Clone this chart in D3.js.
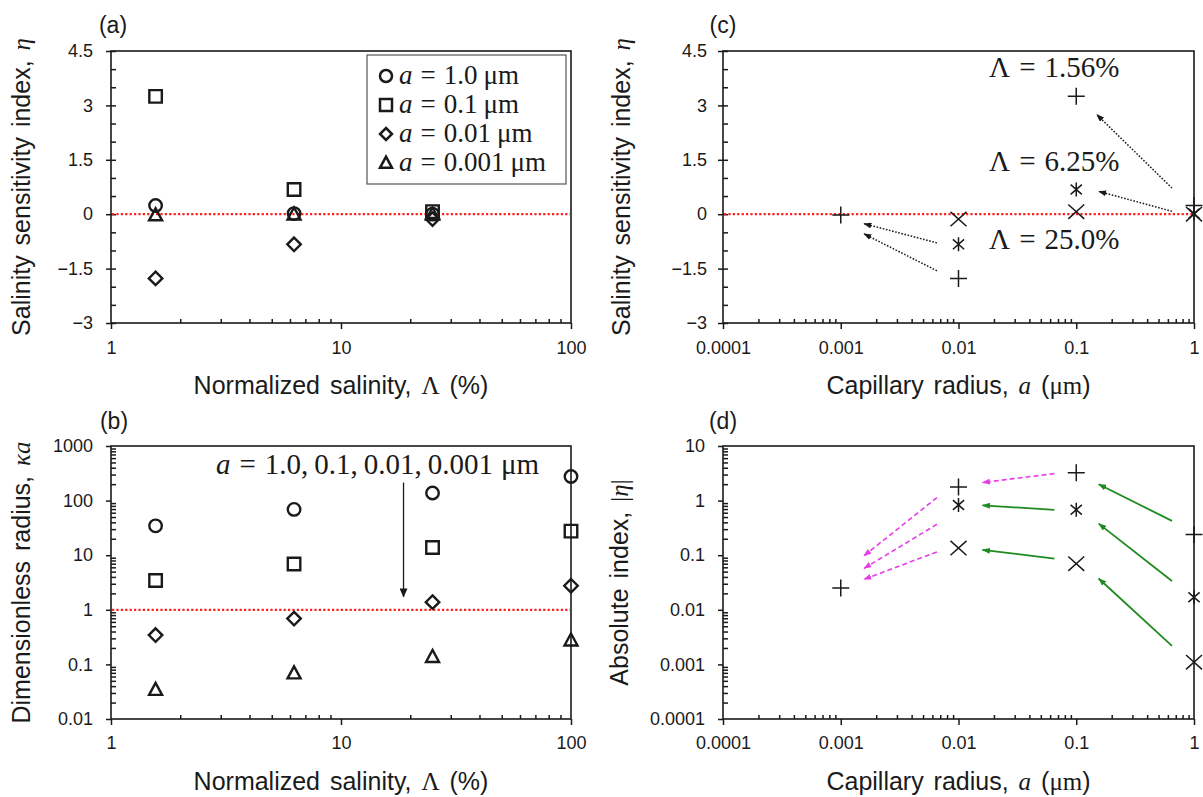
<!DOCTYPE html>
<html>
<head>
<meta charset="utf-8">
<script src="https://cdn.jsdelivr.net/npm/d3@7"></script>
<style>
  html, body { margin: 0; padding: 0; background: #fff; }
  svg { display: block; }
  .tick text { font-family: "Liberation Sans", Arial, sans-serif; font-size: 18px; fill: #1a1a1a; }
  .tick line { stroke: #1a1a1a; stroke-width: 1.5; }
  .title { font-family: "Liberation Sans", Arial, sans-serif; font-size: 25px; fill: #1a1a1a; word-spacing: 3px; }
  .math { font-family: "Liberation Serif", "Times New Roman", serif; }
  .ital { font-style: italic; }
  .note { font-family: "Liberation Serif", "Times New Roman", serif; fill: #1a1a1a; }
</style>
</head>
<body>
<svg id="fig" width="1203" height="797"></svg>
<script>
// ---------- data ----------
// normalized salinity Λ (%)
const salinityA = [1.5625, 6.25, 25];
const salinityB = [1.5625, 6.25, 25, 100];
// capillary radii a (µm), order used by the legend
const radiusLabels = ["1.0", "0.1", "0.01", "0.001"];

// (a) salinity sensitivity index η versus Λ, one series per radius
const etaA_r1 = [0.24, 0.017, 0.0011];
const etaA_r01 = [3.25, 0.68, 0.07];
const etaA_r001 = [-1.77, -0.83, -0.135];
const etaA_r0001 = [-0.025, -0.004, -0.002];

// (b) dimensionless radius κa versus Λ
const ka_r1 = [34.5, 69, 138, 276];
const ka_r01 = [3.45, 6.9, 13.8, 27.6];
const ka_r001 = [0.345, 0.69, 1.38, 2.76];
const ka_r0001 = [0.0345, 0.069, 0.138, 0.276];

// (c) η versus capillary radius, one series per salinity
const radiusC = [1, 0.1, 0.01, 0.001];
const etaC_L156 = [0.24, 3.25, -1.77, -0.025];
const etaC_L625 = [0.017, 0.68, -0.83, null];
const etaC_L250 = [0.0011, 0.07, -0.135, null];
const salinityNotes = ["1.56%", "6.25%", "25.0%"];
// anchor of each Λ note in (c): [a, η]
const notePosC = [[0.0182, 3.77], [0.0182, 1.18], [0.0182, -0.97]];

// (d) absolute index |η| for the same series as (c)
const absD_L156 = etaC_L156.map(v => v == null ? null : Math.abs(v));
const absD_L625 = etaC_L625.map(v => v == null ? null : Math.abs(v));
const absD_L250 = etaC_L250.map(v => v == null ? null : Math.abs(v));

// annotation arrows [x1, y1, x2, y2] in data units
const arrowsC = [[0.65, 0.72, 0.149, 2.75], [0.65, 0.08, 0.155, 0.63],
                 [0.00656, -0.79, 0.00157, -0.26], [0.00656, -1.56, 0.00157, -0.54]];
const arrowsDMagenta = [[0.0652, 3.12, 0.01596, 2.14], [0.00656, 1.135, 0.00157, 0.097],
                        [0.00656, 0.368, 0.00157, 0.057], [0.00656, 0.115, 0.00157, 0.036]];
const arrowsDGreen = [[0.65, 0.425, 0.155, 1.99], [0.0652, 0.676, 0.01596, 0.82],
                      [0.65, 0.0338, 0.155, 0.379], [0.0652, 0.0867, 0.01596, 0.125],
                      [0.65, 0.00219, 0.155, 0.0374]];
const arrowB = [18.7, 214, 18.7, 1.72];
const noteB = [2.86, 303];

// tick values and labels
const etaTicks = [-3, -1.5, 0, 1.5, 3, 4.5];
const etaTickLabels = ["\u22123", "\u22121.5", "0", "1.5", "3", "4.5"];
const salinityTicks = [1, 10, 100];
const salinityTickLabels = ["1", "10", "100"];
const radiusTicks = [0.0001, 0.001, 0.01, 0.1, 1];
const radiusTickLabels = ["0.0001", "0.001", "0.01", "0.1", "1"];
const kaTicks = [0.01, 0.1, 1, 10, 100, 1000];
const kaTickLabels = ["0.01", "0.1", "1", "10", "100", "1000"];
const absTicks = [0.0001, 0.001, 0.01, 0.1, 1, 10];
const absTickLabels = ["0.0001", "0.001", "0.01", "0.1", "1", "10"];

// ---------- layout ----------
const svg = d3.select("#fig");
const INK = "#1a1a1a";
const RED = "#ff1f1f";
const MAGENTA = "#e83ce8";
const GREEN = "#1f8a1f";

const L = { x0: 111, x1: 571 }, R = { x0: 723, x1: 1194 };
const T = { y0: 51, y1: 323 }, B = { y0: 446, y1: 719 };

const xA = d3.scaleLog().domain([1, 100]).range([L.x0, L.x1]);
const yA = d3.scaleLinear().domain([-3, 4.5]).range([T.y1, T.y0]);
const xB = d3.scaleLog().domain([1, 100]).range([L.x0, L.x1]);
const yB = d3.scaleLog().domain([0.01, 1000]).range([B.y1, B.y0]);
const xC = d3.scaleLog().domain([0.0001, 1]).range([R.x0, R.x1]);
const yC = d3.scaleLinear().domain([-3, 4.5]).range([T.y1, T.y0]);
const xD = d3.scaleLog().domain([0.0001, 1]).range([R.x0, R.x1]);
const yD = d3.scaleLog().domain([0.0001, 10]).range([B.y1, B.y0]);

// arrowheads
const defs = svg.append("defs");
function arrowHead(id, color, w, h) {
  defs.append("marker").attr("id", id)
    .attr("viewBox", `0 0 ${w} ${h}`).attr("refX", w - 0.5).attr("refY", h / 2)
    .attr("markerWidth", w).attr("markerHeight", h)
    .attr("markerUnits", "userSpaceOnUse").attr("orient", "auto")
    .append("path").attr("d", `M0,0L${w},${h / 2}L0,${h}Z`).attr("fill", color);
}
arrowHead("ahBlack", INK, 8, 6);
arrowHead("ahMagenta", MAGENTA, 8, 6);
arrowHead("ahGreen", GREEN, 8, 6);
arrowHead("ahBlackB", INK, 9, 8);

// log minor tick positions (2..9 per decade)
function logMinors(scale) {
  const [a, b] = scale.domain();
  const out = [];
  for (let e = Math.round(Math.log10(a)); e < Math.round(Math.log10(b)); e++)
    for (let k = 2; k <= 9; k++) out.push(k * Math.pow(10, e));
  return out;
}

function drawAxes(x, y, opt) {
  const g = svg.append("g");
  const [x0, x1] = x.range(), [y1, y0] = y.range();
  // minor ticks point into the plot
  g.append("g").attr("transform", `translate(0,${y1})`)
    .call(d3.axisBottom(x).tickValues(opt.xMinor).tickSize(-4).tickFormat(""))
    .call(s => s.select(".domain").remove());
  g.append("g").attr("transform", `translate(${x0},0)`)
    .call(d3.axisLeft(y).tickValues(opt.yMinor).tickSize(-5).tickFormat(""))
    .call(s => s.select(".domain").remove());
  // major ticks point outward, with labels
  g.append("g").attr("transform", `translate(0,${y1})`)
    .call(d3.axisBottom(x).tickValues(opt.xTicks).tickSize(6).tickPadding(opt.xPad)
      .tickFormat((d, i) => opt.xLabels[i]))
    .call(s => s.select(".domain").remove());
  g.append("g").attr("transform", `translate(${x0},0)`)
    .call(d3.axisLeft(y).tickValues(opt.yTicks).tickSize(5).tickPadding(opt.yPad)
      .tickFormat((d, i) => opt.yLabels[i]))
    .call(s => s.select(".domain").remove());
  // plot frame
  g.append("rect").attr("x", x0).attr("y", y0).attr("width", x1 - x0).attr("height", y1 - y0)
    .attr("fill", "none").attr("stroke", INK).attr("stroke-width", 1.6);
  return g;
}

function refLine(x, yv, y) {
  svg.append("line")
    .attr("x1", x.range()[0] + 1).attr("x2", x.range()[1] - 1)
    .attr("y1", y(yv)).attr("y2", y(yv))
    .attr("stroke", RED).attr("stroke-width", 2.2).attr("stroke-dasharray", "2.2,2.2");
}

// hollow and line markers
function shapePath(kind, s) {
  const h = s / 2;
  switch (kind) {
    case "circle": { const p = d3.path(); p.moveTo(h, 0); p.arc(0, 0, h, 0, 2 * Math.PI); p.closePath(); return p.toString(); }
    case "square": return `M${-h},${-h}H${h}V${h}H${-h}Z`;
    case "diamond": return `M0,${-h}L${h},0L0,${h}L${-h},0Z`;
    case "triangle": return `M0,${-h * 1.05}L${h},${h * 0.8}L${-h},${h * 0.8}Z`;
    case "plus": return `M${-h},0H${h}M0,${-h}V${h}`;
    case "cross": return `M${-h},${-h * 0.9}L${h},${h * 0.9}M${-h},${h * 0.9}L${h},${-h * 0.9}`;
    case "star": return `M${-h * 0.8},${-h * 0.7}L${h * 0.8},${h * 0.7}M${-h * 0.8},${h * 0.7}L${h * 0.8},${-h * 0.7}M0,${-h}V${h}`;
  }
}
const hollowSize = { circle: 12.5, square: 12.5, diamond: 13.5, triangle: 13 };
const lineSize = { plus: 17, cross: 16, star: 14 };

function drawSeries(xs, ys, x, y, kind) {
  const pts = xs.map((v, i) => [v, ys[i]]).filter(p => p[1] != null);
  const hollow = kind in hollowSize;
  svg.append("g").selectAll("path").data(pts).join("path")
    .attr("transform", d => `translate(${x(d[0])},${y(d[1])})`)
    .attr("d", shapePath(kind, hollow ? hollowSize[kind] : lineSize[kind]))
    .attr("fill", "none").attr("stroke", INK)
    .attr("stroke-width", hollow ? 2.4 : 1.5);
}

function drawArrows(list, x, y, color, dash, head, width) {
  svg.append("g").selectAll("line").data(list).join("line")
    .attr("x1", d => x(d[0])).attr("y1", d => y(d[1]))
    .attr("x2", d => x(d[2])).attr("y2", d => y(d[3]))
    .attr("stroke", color).attr("stroke-width", width)
    .attr("stroke-dasharray", dash).attr("marker-end", `url(#${head})`);
}

function panelTag(label, cx, cy) {
  svg.append("text").attr("x", cx).attr("y", cy).attr("dy", "0.35em")
    .attr("text-anchor", "middle").attr("class", "title").style("font-size", "23px").text(label);
}

function xTitle(cx, cy, parts) {
  const t = svg.append("text").attr("class", "title").attr("x", cx).attr("y", cy)
    .attr("dy", "0.35em").attr("text-anchor", "middle");
  parts.forEach(p => t.append("tspan").attr("class", p[1] || null).text(p[0]));
}
function yTitle(cx, cy, parts) {
  const t = svg.append("text").attr("class", "title")
    .attr("transform", `translate(${cx},${cy}) rotate(-90)`)
    .attr("dy", "0.35em").attr("text-anchor", "middle");
  parts.forEach(p => t.append("tspan").attr("class", p[1] || null).text(p[0]));
}

// ---------- panel (a) ----------
const linMinor = d3.range(-3, 4.5001, 0.5);
drawAxes(xA, yA, { xTicks: salinityTicks, xLabels: salinityTickLabels, xMinor: logMinors(xA), xPad: 12,
  yTicks: etaTicks, yLabels: etaTickLabels, yMinor: linMinor, yPad: 13 });
refLine(xA, 0, yA);
drawSeries(salinityA, etaA_r1, xA, yA, "circle");
drawSeries(salinityA, etaA_r01, xA, yA, "square");
drawSeries(salinityA, etaA_r001, xA, yA, "diamond");
drawSeries(salinityA, etaA_r0001, xA, yA, "triangle");

// legend
const legend = svg.append("g");
legend.append("rect").attr("x", 367).attr("y", 55).attr("width", 199).attr("height", 129)
  .attr("fill", "#fff").attr("stroke", "#555").attr("stroke-width", 1.2);
const legendKinds = ["circle", "square", "diamond", "triangle"];
radiusLabels.forEach((lab, i) => {
  const cy = 76 + i * 29;
  legend.append("path").attr("transform", `translate(386,${cy})`)
    .attr("d", shapePath(legendKinds[i], 12)).attr("fill", "none")
    .attr("stroke", INK).attr("stroke-width", 2.5);
  const t = legend.append("text").attr("class", "note").attr("x", 399).attr("y", cy + 8)
    .style("font-size", "27px");
  t.append("tspan").attr("class", "ital").text("a");
  t.append("tspan").attr("dx", 8).text("=");
  t.append("tspan").attr("dx", 8).text(lab);
  t.append("tspan").attr("dx", 6).text("\u03bcm");
});

panelTag("(a)", 113, 25);
xTitle((L.x0 + L.x1) / 2, 385, [["Normalized salinity, "], ["\u039b", "math"], [" (%)"]]);
yTitle(21, (T.y0 + T.y1) / 2, [["Salinity sensitivity index, "], ["\u03b7", "math ital"]]);

// ---------- panel (b) ----------
drawAxes(xB, yB, { xTicks: salinityTicks, xLabels: salinityTickLabels, xMinor: logMinors(xB), xPad: 11,
  yTicks: kaTicks, yLabels: kaTickLabels, yMinor: logMinors(yB), yPad: 13 });
refLine(xB, 1, yB);
drawSeries(salinityB, ka_r1, xB, yB, "circle");
drawSeries(salinityB, ka_r01, xB, yB, "square");
drawSeries(salinityB, ka_r001, xB, yB, "diamond");
drawSeries(salinityB, ka_r0001, xB, yB, "triangle");
drawArrows([arrowB], xB, yB, INK, null, "ahBlackB", 1.3);
{
  const t = svg.append("text").attr("class", "note").attr("x", xB(noteB[0])).attr("y", yB(noteB[1]))
    .style("font-size", "29px");
  t.append("tspan").attr("class", "ital").text("a");
  t.append("tspan").attr("dx", 9).text("=");
  t.append("tspan").attr("dx", 9).text("1.0,");
  t.append("tspan").attr("dx", 6).text("0.1,");
  t.append("tspan").attr("dx", 6).text("0.01,");
  t.append("tspan").attr("dx", 6).text("0.001");
  t.append("tspan").attr("dx", 8).text("\u03bcm");
}
panelTag("(b)", 114, 421);
xTitle((L.x0 + L.x1) / 2, 781, [["Normalized salinity, "], ["\u039b", "math"], [" (%)"]]);
yTitle(21, (B.y0 + B.y1) / 2, [["Dimensionless radius, "], ["\u03baa", "math ital"]]);

// ---------- panel (c) ----------
drawAxes(xC, yC, { xTicks: radiusTicks, xLabels: radiusTickLabels, xMinor: logMinors(xC), xPad: 12,
  yTicks: etaTicks, yLabels: etaTickLabels, yMinor: linMinor, yPad: 11 });
refLine(xC, 0, yC);
drawSeries(radiusC, etaC_L156, xC, yC, "plus");
drawSeries(radiusC, etaC_L625, xC, yC, "star");
drawSeries(radiusC, etaC_L250, xC, yC, "cross");
drawArrows(arrowsC, xC, yC, INK, "1.6,1.6", "ahBlack", 1.5);
salinityNotes.forEach((lab, i) => {
  const t = svg.append("text").attr("class", "note")
    .attr("x", xC(notePosC[i][0])).attr("y", yC(notePosC[i][1])).style("font-size", "29px");
  t.append("tspan").text("\u039b");
  t.append("tspan").attr("dx", 9).text("=");
  t.append("tspan").attr("dx", 9).text(lab);
});
panelTag("(c)", 723, 25);
xTitle((R.x0 + R.x1) / 2, 385, [["Capillary radius, "], ["a", "math ital"], [" ("], ["\u03bcm", "math"], [")"]]);
yTitle(621, (T.y0 + T.y1) / 2, [["Salinity sensitivity index, "], ["\u03b7", "math ital"]]);

// ---------- panel (d) ----------
drawAxes(xD, yD, { xTicks: radiusTicks, xLabels: radiusTickLabels, xMinor: logMinors(xD), xPad: 11,
  yTicks: absTicks, yLabels: absTickLabels, yMinor: logMinors(yD), yPad: 13 });
drawSeries(radiusC, absD_L156, xD, yD, "plus");
drawSeries(radiusC, absD_L625, xD, yD, "star");
drawSeries(radiusC, absD_L250, xD, yD, "cross");
drawArrows(arrowsDMagenta, xD, yD, MAGENTA, "5,3", "ahMagenta", 1.6);
drawArrows(arrowsDGreen, xD, yD, GREEN, null, "ahGreen", 1.8);
panelTag("(d)", 723, 421);
xTitle((R.x0 + R.x1) / 2, 781, [["Capillary radius, "], ["a", "math ital"], [" ("], ["\u03bcm", "math"], [")"]]);
yTitle(619, (B.y0 + B.y1) / 2, [["Absolute index, "], ["|", "math"], ["\u03b7", "math ital"], ["|", "math"]]);
</script>
</body>
</html>
